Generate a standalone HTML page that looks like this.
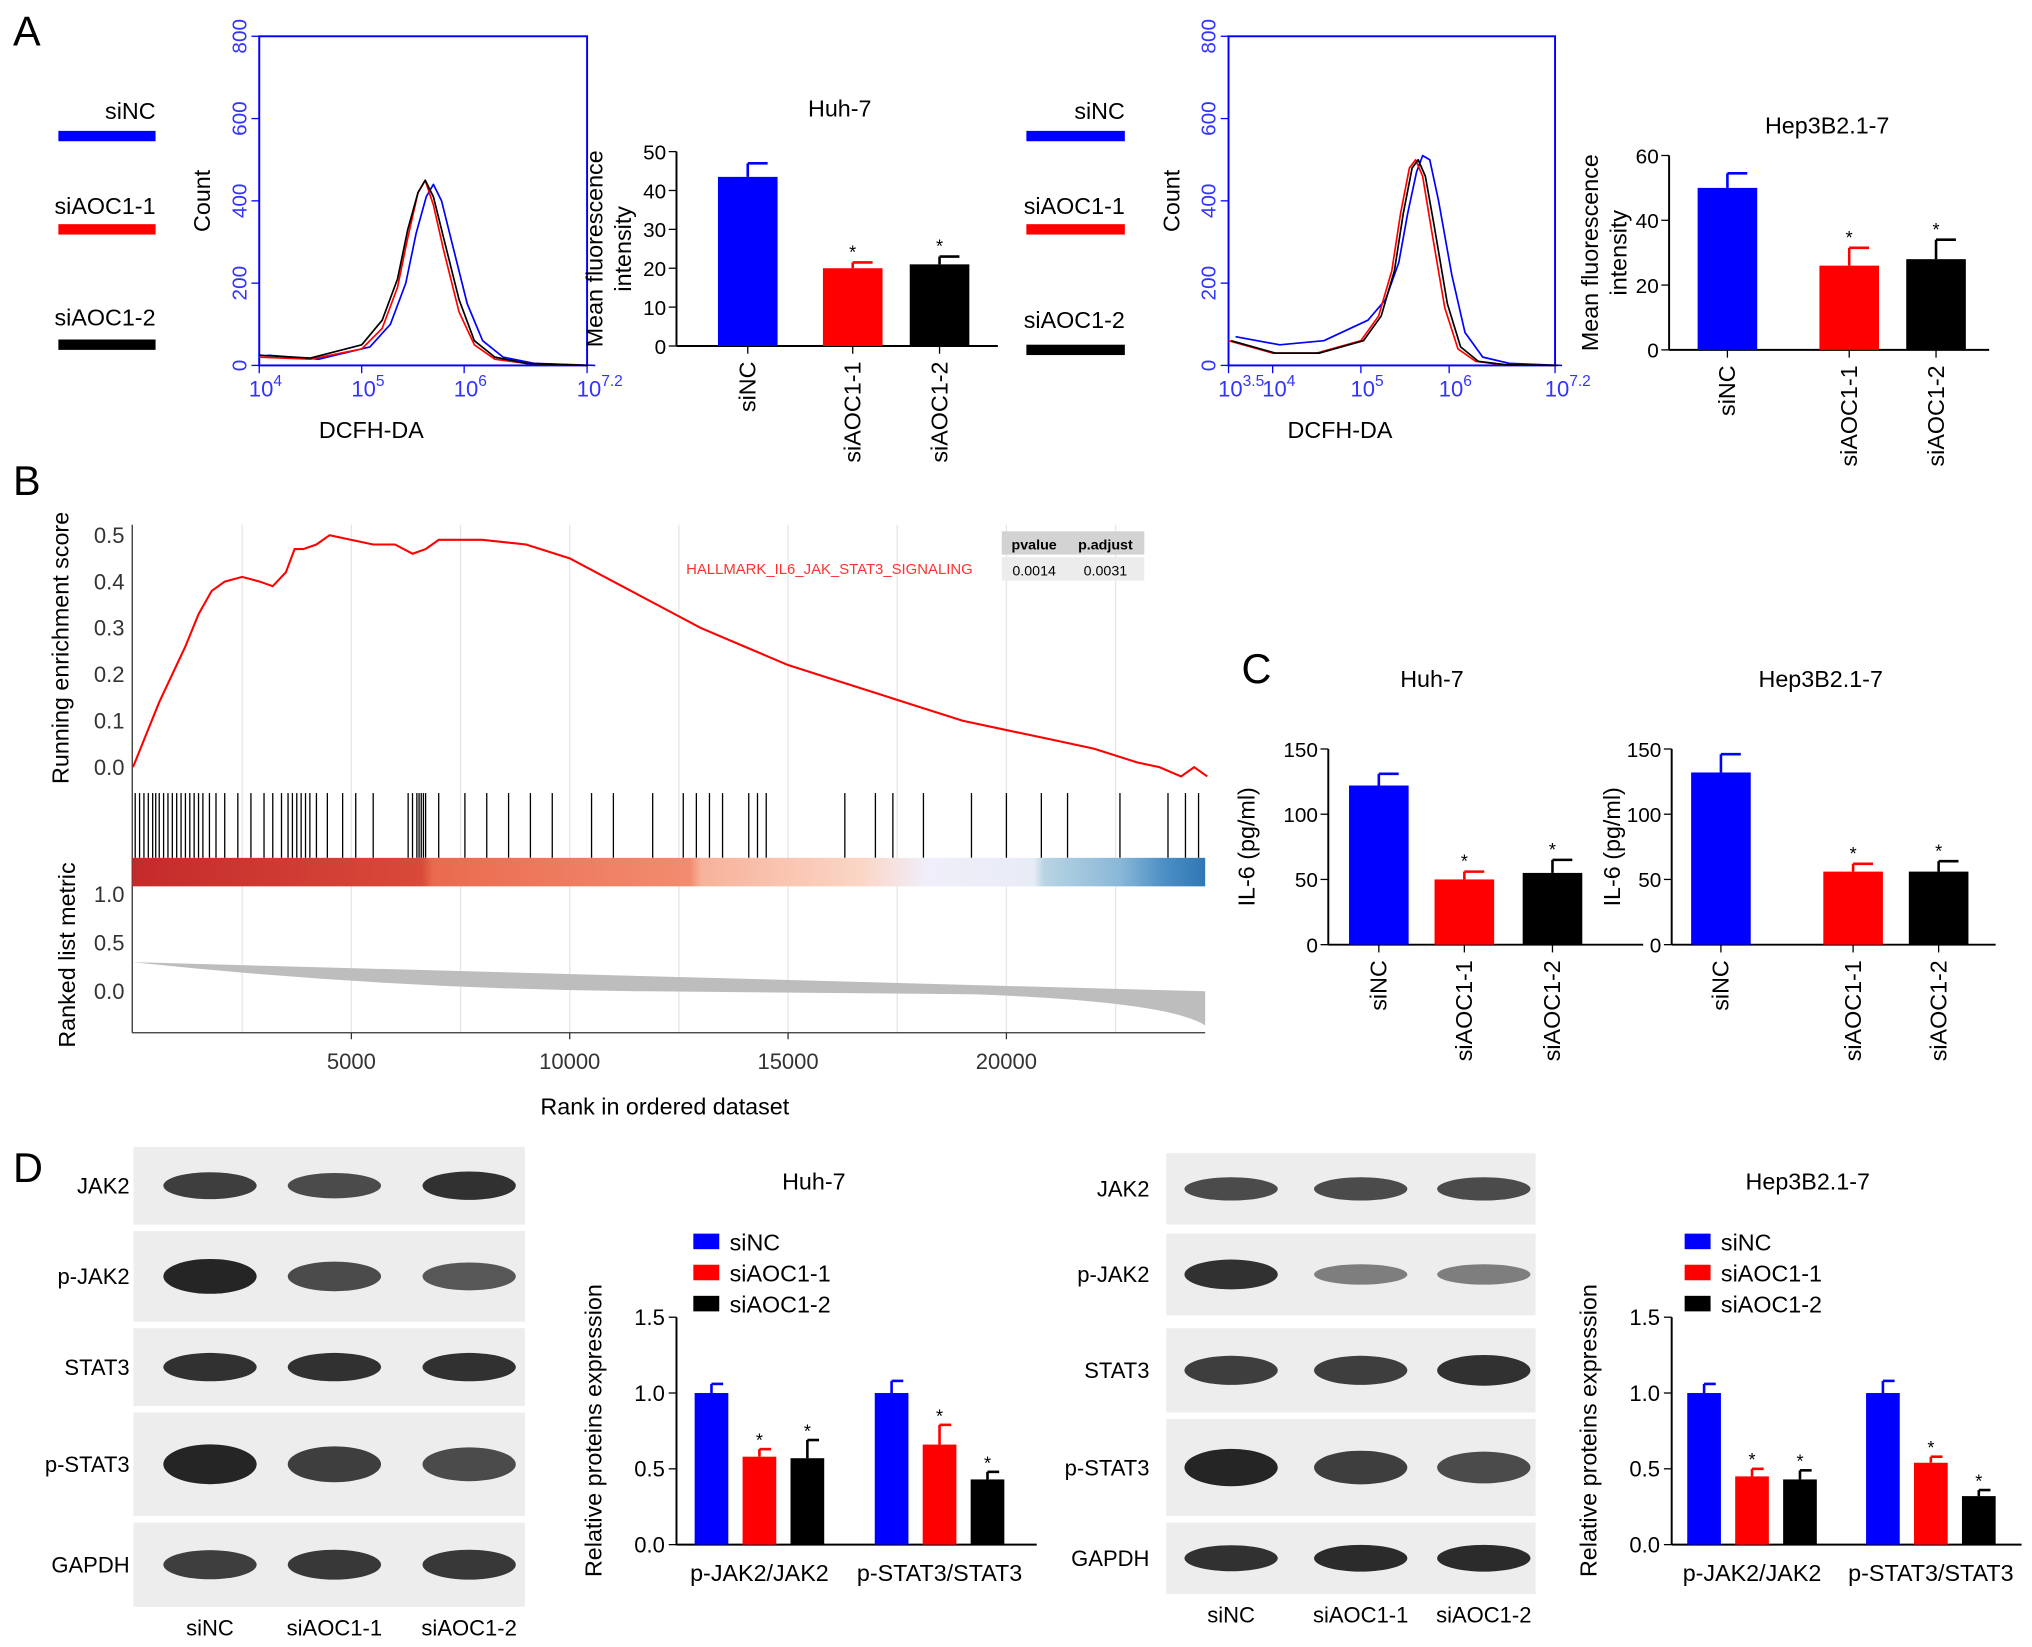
<!DOCTYPE html>
<html><head><meta charset="utf-8"><style>
body{margin:0;background:#fff}svg{display:block;font-family:"Liberation Sans",Arial,sans-serif}
</style></head><body>
<svg id="fig" width="2032" height="1647" viewBox="0 0 1568 1271" xmlns="http://www.w3.org/2000/svg"></svg>
<script>
// ---- data ----
const barCats=["siNC","siAOC1-1","siAOC1-2"];
const mfiHuh=[43.5,20,21], mfiHuhErr=[3.5,1.5,2];
const mfiHep=[50,26,28], mfiHepErr=[4.5,5.5,6];
const il6Huh=[122,50,55], il6HuhErr=[9,6,10];
const il6Hep=[132,56,56], il6HepErr=[14,6,8];
const wbGroups=["p-JAK2/JAK2","p-STAT3/STAT3"];
const wbHuhJAK=[1.0,0.58,0.57], wbHuhJAKErr=[0.06,0.05,0.12];
const wbHuhSTAT=[1.0,0.66,0.43], wbHuhSTATErr=[0.08,0.13,0.05];
const wbHepJAK=[1.0,0.45,0.43], wbHepJAKErr=[0.06,0.05,0.06];
const wbHepSTAT=[1.0,0.54,0.32], wbHepSTATErr=[0.08,0.04,0.04];
const esRank=[0,300,600,900,1200,1500,1800,2100,2500,2900,3200,3500,3700,3900,4200,4500,5000,5500,6000,6400,6700,7000,8000,9000,10000,11000,12000,13000,14000,15000,16000,17000,18000,19000,20000,21000,22000,23000,23500,24000,24300,24600];
const esVal=[0,0.07,0.14,0.2,0.26,0.33,0.38,0.4,0.41,0.4,0.39,0.42,0.47,0.47,0.48,0.5,0.49,0.48,0.48,0.46,0.47,0.49,0.49,0.48,0.45,0.4,0.35,0.3,0.26,0.22,0.19,0.16,0.13,0.1,0.08,0.06,0.04,0.01,0.0,-0.02,0.0,-0.02];
const hits=[50,150,250,350,450,520,600,700,800,900,1000,1100,1200,1300,1400,1500,1600,1750,1900,2100,2400,2700,3000,3200,3400,3550,3650,3750,3850,3950,4050,4200,4450,4800,5100,5500,6300,6400,6500,6550,6600,6650,6700,7000,7600,8100,8600,9100,9600,10500,11000,11900,12600,12900,13200,13500,14100,14300,14500,16300,17000,17400,18100,19200,20000,20800,21400,22600,23700,24100,24400];
const histX=[4,4.5,5,5.2,5.35,5.45,5.55,5.62,5.7,5.8,5.95,6.1,6.3,6.6,7.2];
const hist1=[[25,15,45,100,200,320,410,440,400,300,150,60,20,5,0],[20,15,40,90,190,310,420,450,390,280,130,50,15,5,0],[25,18,50,110,210,330,420,450,410,310,160,60,20,5,0]];
const hist1Shift=[0.08,0,0];
const hist2X=[3.5,4,4.5,5,5.2,5.35,5.45,5.55,5.62,5.7,5.8,5.95,6.1,6.3,6.6,7.2];
const hist2=[[70,50,60,110,160,250,370,470,510,500,400,220,80,20,5,0],[60,30,30,60,120,230,370,480,500,460,330,140,40,10,2,0],[60,30,30,60,120,230,370,480,500,460,340,150,45,10,2,0]];
const hist2Shift=[0.08,0,0.03];
const colors=["#0000ff","#ff0000","#000000"];

const S=document.getElementById('fig');const NS="http://www.w3.org/2000/svg";
function el(t,a,p){const e=document.createElementNS(NS,t);for(const k in a)e.setAttribute(k,a[k]);(p||S).appendChild(e);return e;}
function txt(x,y,s,a,p){const e=el('text',Object.assign({x:x,y:y,'font-size':17,fill:'#000'},a||{}),p);e.textContent=s;return e;}

[["A",10,35],["B",10,382],["C",958,527],["D",10,912]].forEach(l=>{const t=txt(l[1],l[2],l[0],{'font-size':32});});

function legendLeft(x0,x1,ys,g){barCats.forEach((c,i)=>{const t=txt(x1,ys[i][0],c,{'text-anchor':'end','font-size':18},g);const r=el('rect',{x:x0,y:ys[i][1],width:x1-x0,height:8,fill:colors[i]},g);});}

function histogram(bx,by,bw,bh,xmin,xmax,xs,ser,shift,ticks,name){
 const g=el('g',{});
 const X=v=>bx+(v-xmin)/(xmax-xmin)*bw, Y=v=>by+bh-v/800*bh;
 el('rect',{x:bx,y:by,width:bw,height:bh,fill:'none',stroke:'#0000ff','stroke-width':1.5},g);
 [0,200,400,600,800].forEach(v=>{el('line',{x1:bx-6,x2:bx,y1:Y(v),y2:Y(v),stroke:'#0000ff'},g);const t=txt(bx-10,Y(v),String(v),{fill:'#3333ff','text-anchor':'middle',transform:`rotate(-90 ${bx-10} ${Y(v)})`,'font-size':16},g);});
 ticks.forEach(v=>{el('line',{x1:X(v),x2:X(v),y1:by+bh,y2:by+bh+6,stroke:'#0000ff'},g);const t=txt(X(v)-8,by+bh+24,'10',{fill:'#3333ff','font-size':17},g);const ts=el('tspan',{dy:-8,'font-size':12},t);ts.textContent=String(v);});
 ser.forEach((s,i)=>{let d='';s.forEach((v,j)=>{d+=(j?'L':'M')+X(xs[j]+shift[i]).toFixed(1)+','+Y(v).toFixed(1);});const p=el('path',{d:d,fill:'none',stroke:colors[i],'stroke-width':1.3,'stroke-linejoin':'round'},g);});
 const yl=txt(bx-38,by+bh/2,'Count',{'text-anchor':'middle','font-size':18,transform:`rotate(-90 ${bx-38} ${by+bh/2})`},g);
 const xl=txt(bx+bw/2-40,by+bh+56,'DCFH-DA',{'text-anchor':'middle','font-size':18},g);
}

function barChart(o){
 const g=el('g',{});
 const Y=v=>o.y0-(v/o.ymax)*(o.y0-o.y1);
 el('line',{x1:o.ax,x2:o.ax,y1:Y(o.ymax),y2:o.y0,stroke:'#000','stroke-width':1.5},g);
 el('line',{x1:o.ax,x2:o.ax2,y1:o.y0,y2:o.y0,stroke:'#000','stroke-width':1.5},g);
 o.ticks.forEach(v=>{el('line',{x1:o.ax-6,x2:o.ax,y1:Y(v),y2:Y(v),stroke:'#000'},g);const t=txt(o.ax-8,Y(v)+6,String(v),{'text-anchor':'end','font-size':16},g);});
 o.vals.forEach((v,i)=>{const cx=o.cx[i];const b=el('rect',{x:cx-o.bw/2,y:Y(v),width:o.bw,height:o.y0-Y(v),fill:colors[i]},g);
  const e=Y(v+o.err[i]);el('line',{x1:cx,x2:cx,y1:Y(v),y2:e,stroke:colors[i],'stroke-width':2},g);el('line',{x1:cx,x2:cx+o.bw/3,y1:e,y2:e,stroke:colors[i],'stroke-width':2},g);
  if(i>0)txt(cx,e-3,'*',{'text-anchor':'middle','font-size':14},g);
  el('line',{x1:cx,x2:cx,y1:o.y0,y2:o.y0+6,stroke:'#000'},g);
  const t=txt(cx+6,o.y0+12,barCats[i],{'text-anchor':'end','font-size':18,transform:`rotate(-90 ${cx+6} ${o.y0+12})`},g);});
 const tt=txt(o.tx,o.ty,o.title,{'text-anchor':'middle','font-size':18},g);
 o.ylab.forEach((l,k)=>{const x=o.ylx+k*22,y=(o.y0+Y(o.ymax))/2;const t=txt(x,y,l,{'text-anchor':'middle','font-size':18,transform:`rotate(-90 ${x} ${y})`},g);});
}

legendLeft(45,120,[[92,101],[165,173],[251,262]],el('g',{}));
histogram(200,28,253,254,4,7.2,histX,hist1,hist1Shift,[4,5,6,7.2],'histogram-huh7');
barChart({name:'bar-chart-mfi-huh7',ax:522,ax2:770,y0:267,y1:117,ymax:50,ticks:[0,10,20,30,40,50],vals:mfiHuh,err:mfiHuhErr,cx:[577,658,725],bw:46,title:'Huh-7',tx:648,ty:90,ylab:['Mean fluorescence','intensity'],ylx:465});
barChart({name:'bar-chart-mfi-hep3b',ax:1288,ax2:1535,y0:270,y1:120,ymax:60,ticks:[0,20,40,60],vals:mfiHep,err:mfiHepErr,cx:[1333,1427,1494],bw:46,title:'Hep3B2.1-7',tx:1410,ty:103,ylab:['Mean fluorescence','intensity'],ylx:1233});
legendLeft(792,868,[[92,101],[165,173],[253,266]],el('g',{}));
histogram(948,28,252,254,3.5,7.2,hist2X,hist2,hist2Shift,[3.5,4,5,6,7.2],'histogram-hep3b');

(function(){const g=el('g',{});
 const X=r=>102.6+r*0.0337, Y=v=>592-v*358;
 [2500,5000,7500,10000,12500,15000,17500,20000,22500].forEach(r=>el('line',{x1:X(r),x2:X(r),y1:405,y2:797,stroke:'#e6e6e6'},g));
 el('line',{x1:102,x2:102,y1:405,y2:797,stroke:'#333'},g);el('line',{x1:102,x2:930,y1:797,y2:797,stroke:'#333'},g);
 [0,0.1,0.2,0.3,0.4,0.5].forEach(v=>{const t=txt(96,Y(v)+6,v.toFixed(1),{'text-anchor':'end','font-size':17,fill:'#333'},g);});
 let d='';esRank.forEach((r,i)=>{d+=(i?'L':'M')+X(r).toFixed(1)+','+Y(esVal[i]).toFixed(1);});
 const p=el('path',{d:d,fill:'none',stroke:'#ff0000','stroke-width':1.6},g);
 hits.forEach(r=>{const l=el('line',{x1:X(r),x2:X(r),y1:612,y2:662,stroke:'#000','stroke-width':1},g);});
 const grad=el('linearGradient',{id:'hm',x1:0,x2:1,y1:0,y2:0},el('defs',{},g));
 [[0,'#c42a2a'],[0.27,'#d94a3a'],[0.28,'#ea6a4e'],[0.52,'#f28c70'],[0.53,'#f7b29a'],[0.68,'#fbd6c6'],[0.74,'#f0eefa'],[0.84,'#e8ecf6'],[0.85,'#b8d4e4'],[0.92,'#8ab8d8'],[0.96,'#4f90c6'],[1,'#3077b5']].forEach(s=>el('stop',{offset:s[0],'stop-color':s[1]},grad));
 const hm=el('rect',{x:102,y:662,width:828,height:22,fill:'url(#hm)'},g);
 const Y2=v=>765-v*75;
 el('path',{d:`M102,${Y2(0.3)} Q300,${Y2(0.02)} 500,${Y2(0)} L750,${Y2(-0.03)} Q900,${Y2(-0.1)} 930,${Y2(-0.35)} L930,${Y2(0)} Z`,fill:'#bdbdbd'},g);
 [[0,'0.0'],[0.5,'0.5'],[1,'1.0']].forEach(v=>txt(96,Y2(v[0])+6,v[1],{'text-anchor':'end','font-size':17,fill:'#333'},g));
 [5000,10000,15000,20000].forEach(r=>{el('line',{x1:X(r),x2:X(r),y1:797,y2:802,stroke:'#333'},g);const t=txt(X(r),825,String(r),{'text-anchor':'middle','font-size':17,fill:'#333'},g);});
 txt(513,860,'Rank in ordered dataset',{'text-anchor':'middle','font-size':18});
 txt(53,500,'Running enrichment score',{'text-anchor':'middle','font-size':18,transform:'rotate(-90 53 500)'});
 txt(58,737,'Ranked list metric',{'text-anchor':'middle','font-size':18,transform:'rotate(-90 58 737)'});
 txt(640,443,'HALLMARK_IL6_JAK_STAT3_SIGNALING',{'text-anchor':'middle','font-size':11.5,fill:'#ff3030'});
 el('rect',{x:773,y:410,width:110,height:18,fill:'#d3d3d3'},g);el('rect',{x:773,y:430,width:110,height:18,fill:'#ececec'},g);
 txt(798,424,'pvalue',{'text-anchor':'middle','font-size':11,'font-weight':'bold'},g);txt(853,424,'p.adjust',{'text-anchor':'middle','font-size':11,'font-weight':'bold'},g);
 txt(798,444,'0.0014',{'text-anchor':'middle','font-size':11},g);txt(853,444,'0.0031',{'text-anchor':'middle','font-size':11},g);
})();

barChart({name:'bar-chart-il6-huh7',ax:1025,ax2:1268,y0:729,y1:578,ymax:150,ticks:[0,50,100,150],vals:il6Huh,err:il6HuhErr,cx:[1064,1130,1198],bw:46,title:'Huh-7',tx:1105,ty:530,ylab:['IL-6 (pg/ml)'],ylx:968});
barChart({name:'bar-chart-il6-hep3b',ax:1290,ax2:1540,y0:729,y1:578,ymax:150,ticks:[0,50,100,150],vals:il6Hep,err:il6HepErr,cx:[1328,1430,1496],bw:46,title:'Hep3B2.1-7',tx:1405,ty:530,ylab:['IL-6 (pg/ml)'],ylx:1250});

function blot(x0,x1,rows,lanes,labX,laneY,name,intens){const g=el('g',{});
 rows.forEach((r,ri)=>{el('rect',{x:x0,y:r[1],width:x1-x0,height:r[2]-r[1],fill:'#ededed'},g);const t=txt(labX,(r[1]+r[2])/2+6,r[0],{'text-anchor':'end','font-size':17},g);
  lanes.forEach((lx,li)=>{const a=intens[ri][li];const b=el('ellipse',{cx:lx,cy:(r[1]+r[2])/2,rx:36,ry:(r[2]-r[1])*0.16*(0.6+a*0.6),fill:'#1a1a1a','fill-opacity':0.35+0.6*a},g);});});
 barCats.forEach((c,i)=>{const t=txt(lanes[i],laneY,c,{'text-anchor':'middle','font-size':17},g);});}
blot(103,405,[['JAK2',885,945],['p-JAK2',950,1020],['STAT3',1025,1085],['p-STAT3',1090,1170],['GAPDH',1175,1240]],[162,258,362],100,1262,'western-blot-huh7',[[0.8,0.7,0.9],[1,0.7,0.6],[0.9,0.9,0.9],[1,0.8,0.7],[0.8,0.85,0.85]]);
blot(900,1185,[['JAK2',890,945],['p-JAK2',952,1015],['STAT3',1025,1090],['p-STAT3',1095,1170],['GAPDH',1175,1230]],[950,1050,1145],887,1252,'western-blot-hep3b',[[0.7,0.7,0.7],[0.9,0.3,0.3],[0.8,0.8,0.9],[1,0.8,0.7],[0.9,0.95,0.95]]);
function groupChart(o){const g=el('g',{});
 const Y=v=>1192-v*117;
 el('line',{x1:o.ax,x2:o.ax,y1:Y(1.5),y2:1192,stroke:'#000','stroke-width':1.5},g);el('line',{x1:o.ax,x2:o.ax2,y1:1192,y2:1192,stroke:'#000','stroke-width':1.5},g);
 [0,0.5,1,1.5].forEach(v=>{el('line',{x1:o.ax-6,x2:o.ax,y1:Y(v),y2:Y(v),stroke:'#000'},g);txt(o.ax-9,Y(v)+6,v.toFixed(1),{'text-anchor':'end','font-size':17},g);});
 [o.g1,o.g2].forEach((vals,gi)=>{const errs=gi?o.e2:o.e1;vals.forEach((v,i)=>{const cx=o.gc[gi]+(i-1)*37;const b=el('rect',{x:cx-13,y:Y(v),width:26,height:1192-Y(v),fill:colors[i]},g);
  const e=Y(v+errs[i]);el('line',{x1:cx,x2:cx,y1:Y(v),y2:e,stroke:colors[i],'stroke-width':2},g);el('line',{x1:cx,x2:cx+9,y1:e,y2:e,stroke:colors[i],'stroke-width':2},g);if(i>0)txt(cx,e-2,'*',{'text-anchor':'middle','font-size':14},g);});
  const t=txt(o.gc[gi],1220,wbGroups[gi],{'text-anchor':'middle','font-size':18},g);});
 txt(o.tx,918,o.title,{'text-anchor':'middle','font-size':18},g);
 barCats.forEach((c,i)=>{const r=el('rect',{x:o.lx,y:952+i*24,width:20,height:12,fill:colors[i]},g);txt(o.lx+28,965+i*24,c,{'font-size':18},g);});
 const yx=o.ax-58;txt(yx,1104,'Relative proteins expression',{'text-anchor':'middle','font-size':18,transform:`rotate(-90 ${yx} 1104)`},g);}
groupChart({name:'bar-chart-wb-huh7',ax:522,ax2:800,gc:[586,725],g1:wbHuhJAK,e1:wbHuhJAKErr,g2:wbHuhSTAT,e2:wbHuhSTATErr,title:'Huh-7',tx:628,lx:535});
groupChart({name:'bar-chart-wb-hep3b',ax:1290,ax2:1560,gc:[1352,1490],g1:wbHepJAK,e1:wbHepJAKErr,g2:wbHepSTAT,e2:wbHepSTATErr,title:'Hep3B2.1-7',tx:1395,lx:1300});
</script>
</body></html>
